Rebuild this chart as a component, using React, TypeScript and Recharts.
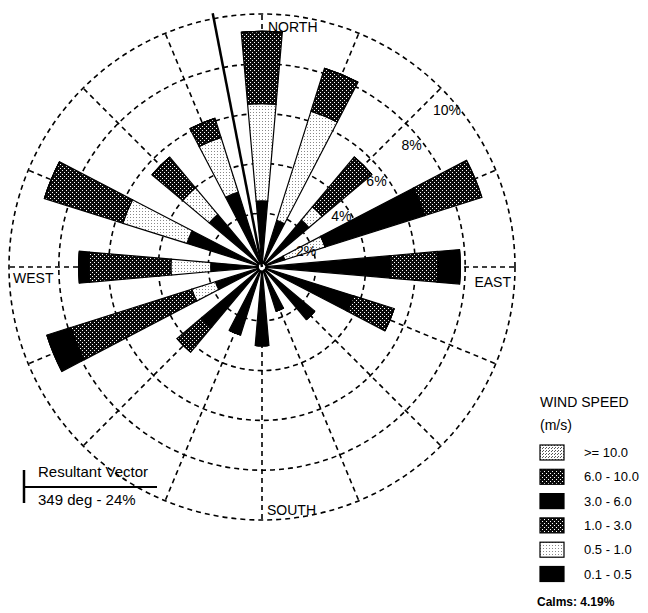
import { RadialBarChart, RadialBar, PolarGrid, PolarAngleAxis, PolarRadiusAxis, LineChart, Line, XAxis, YAxis } from "recharts";

// 16 compass directions, clockwise from north
const DIRECTIONS = ["N", "NNE", "NE", "ENE", "E", "ESE", "SE", "SSE", "S", "SSW", "SW", "WSW", "W", "WNW", "NW", "NNW"];
const COMPASS_LABELS: Record<string, string> = { N: "NORTH", E: "EAST", S: "SOUTH", W: "WEST" };
const RINGS = [0, 2, 4, 6, 8, 10];

// wind speed classes (m/s), stacked from the centre outwards
const SPEED_CLASSES = ["0.1 - 0.5", "0.5 - 1.0", "1.0 - 3.0", "3.0 - 6.0", "6.0 - 10.0", ">= 10.0"];

// frequency (%) per direction for each speed class
const SPEED_01_05 = [2.5, 1.8, 2.3, 0.8, 5.0, 3.7, 2.6, 1.7, 3.0, 2.7, 3.0, 1.8, 1.9, 3.0, 2.6, 3.0];
const SPEED_05_10 = [3.9, 4.6, 0.7, 1.7, 0, 0, 0, 0, 0, 0, 0, 1.0, 1.6, 2.7, 1.4, 2.3];
const SPEED_10_30 = [2.9, 1.8, 2.6, 0, 1.9, 1.7, 0, 0, 0, 0, 1.3, 5.1, 3.3, 3.3, 1.6, 0.8];
const SPEED_30_60 = [0, 0, 0, 4.2, 0.9, 0, 0, 0, 0, 0, 0, 1.0, 0.4, 0, 0, 0];
const SPEED_60_100 = [0, 0, 0, 2.4, 0, 0, 0, 0, 0, 0, 0, 0, 0, 0, 0, 0];
const SPEED_100_UP = [0, 0, 0, 0, 0, 0, 0, 0, 0, 0, 0, 0, 0, 0, 0, 0];

const CALMS = 4.19;
const RESULTANT_DEG = 349;
const RESULTANT_PCT = 24;
const VECTOR_DRAWN_LENGTH = 10.2; // drawn length, in ring units

const SERIES = [SPEED_01_05, SPEED_05_10, SPEED_10_30, SPEED_30_60, SPEED_60_100, SPEED_100_UP];
const FILLS = ["#000", "url(#lightDots)", "url(#darkDots)", "#000", "url(#darkDots)", "url(#lightDots2)"];

const data = DIRECTIONS.map((dir, i) => {
  const row: Record<string, string | number> = { dir };
  SERIES.forEach((s, k) => (row["s" + k] = s[i]));
  return row;
});

const FONT = "'Liberation Sans', Arial, sans-serif";
const CX = 262;
const CY = 267;
const R = 253;
const STEP = 360 / DIRECTIONS.length;
const HALF_BAND = STEP / 2;
const SPOKES = DIRECTIONS.map((_, i) => 90 - i * STEP);

// angle-axis ticks sit on the band edge; turn them back onto the band centre
const toBandCentre = (x: number, y: number) => {
  const t = (HALF_BAND * Math.PI) / 180;
  const dx = x - CX;
  const dy = y - CY;
  return { x: CX + dx * Math.cos(t) + dy * Math.sin(t), y: CY - dx * Math.sin(t) + dy * Math.cos(t) };
};

const CompassTick = (props: any) => {
  const { payload } = props;
  const label = COMPASS_LABELS[payload.value];
  if (!label) return <g />;
  const p = toBandCentre(props.x, props.y);
  const place: Record<string, [number, number, string]> = {
    N: [6, 26, "start"],
    E: [-12, 20, "end"],
    S: [5, -13, "start"],
    W: [12, 16, "start"],
  };
  const [dx, dy, anchor] = place[payload.value];
  return (
    <text x={p.x + dx} y={p.y + dy} textAnchor={anchor} fontSize={14} fontFamily={FONT} fill="#000">
      {label}
    </text>
  );
};

const PercentTick = (props: any) => {
  const { x, y, payload } = props;
  if (!payload.value) return <g />;
  return (
    <text x={x + 6} y={y + 27} textAnchor="middle" fontSize={14} fontFamily={FONT} fill="#000">
      {`${payload.value}%`}
    </text>
  );
};

const vectorData = [
  { x: 0, y: 0 },
  {
    x: VECTOR_DRAWN_LENGTH * Math.sin((RESULTANT_DEG * Math.PI) / 180),
    y: VECTOR_DRAWN_LENGTH * Math.cos((RESULTANT_DEG * Math.PI) / 180),
  },
];
const VEC_BOX = 532;

export default function App() {
  return (
    <div style={{ position: "absolute", left: 0, top: 0, width: 648, height: 613, background: "#fff", overflow: "hidden" }}>
      <RadialBarChart
        width={648}
        height={613}
        data={data}
        cx={CX}
        cy={CY}
        innerRadius={4}
        outerRadius={R}
        startAngle={90 - HALF_BAND}
        endAngle={90 - HALF_BAND - 360}
        layout="centric"
        barCategoryGap="28%"
        margin={{ top: 0, right: 0, bottom: 0, left: 0 }}
      >
        <defs>
          <pattern id="darkDots" width="4" height="4" patternUnits="userSpaceOnUse">
            <rect width="4" height="4" fill="#0a0a0a" />
            <rect x="0" y="0" width="1" height="1" fill="#fff" />
            <rect x="2" y="2" width="1" height="1" fill="#fff" />
          </pattern>
          <pattern id="lightDots" width="3" height="3" patternUnits="userSpaceOnUse">
            <rect width="3" height="3" fill="#fff" />
            <rect x="1" y="1" width="1" height="1" fill="#888" />
          </pattern>
          <pattern id="lightDots2" width="3" height="3" patternUnits="userSpaceOnUse">
            <rect width="3" height="3" fill="#fff" />
            <rect x="0" y="0" width="1" height="1" fill="#555" />
            <rect x="1" y="2" width="1" height="1" fill="#555" />
          </pattern>
        </defs>
        <PolarGrid gridType="circle" polarAngles={SPOKES} stroke="#000" strokeWidth={1.6} strokeDasharray="5 4" />
        <PolarAngleAxis dataKey="dir" type="category" axisLine={false} tickLine={false} tick={CompassTick} />
        {SERIES.map((_, k) => (
          <RadialBar
            key={k}
            dataKey={"s" + k}
            name={SPEED_CLASSES[k]}
            stackId="wind"
            fill={FILLS[k]}
            stroke="#000"
            strokeWidth={1.2}
            isAnimationActive={false}
          />
        ))}
        <PolarRadiusAxis
          angle={45}
          type="number"
          domain={[0, 10]}
          ticks={RINGS}
          tickCount={6}
          axisLine={false}
          tickLine={false}
          tick={PercentTick}
        />
      </RadialBarChart>

      <div style={{ position: "absolute", left: CX - VEC_BOX / 2, top: CY - VEC_BOX / 2, pointerEvents: "none" }}>
        <LineChart width={VEC_BOX} height={VEC_BOX} data={vectorData} margin={{ top: 0, right: 0, bottom: 0, left: 0 }}>
          <XAxis dataKey="x" type="number" domain={[-10.5, 10.5]} hide />
          <YAxis type="number" domain={[-10.5, 10.5]} hide />
          <Line dataKey="y" stroke="#000" strokeWidth={2.5} dot={false} isAnimationActive={false} />
        </LineChart>
      </div>

      {/* resultant vector note */}
      <svg style={{ position: "absolute", left: 0, top: 460 }} width={170} height={60}>
        <line x1={24} y1={10} x2={24} y2={43} stroke="#000" strokeWidth={2.5} />
        <line x1={24} y1={27} x2={157} y2={27} stroke="#000" strokeWidth={2} />
        <text x={38} y={17} fontSize={15} fontFamily={FONT} fill="#000">Resultant Vector</text>
        <text x={38} y={45} fontSize={15} fontFamily={FONT} fill="#000">{`${RESULTANT_DEG} deg - ${RESULTANT_PCT}%`}</text>
      </svg>

      {/* legend */}
      <svg style={{ position: "absolute", left: 530, top: 385 }} width={118} height={228}>
        <text x={10} y={22} fontSize={14} fontFamily={FONT} fill="#000">WIND SPEED</text>
        <text x={10} y={45} fontSize={14} fontFamily={FONT} fill="#000">(m/s)</text>
        {SPEED_CLASSES.slice()
          .reverse()
          .map((label, i) => {
            const top = 60 + i * 24.3;
            const k = SPEED_CLASSES.length - 1 - i;
            return (
              <g key={label}>
                <rect x={10} y={top} width={24} height={15} fill={FILLS[k]} stroke="#000" strokeWidth={1.2} />
                <text x={54} y={top + 12} fontSize={13} fontFamily={FONT} fill="#000">{label}</text>
              </g>
            );
          })}
        <text x={7} y={221} fontSize={12} fontWeight="bold" fontFamily={FONT} fill="#000">{`Calms: ${CALMS}%`}</text>
      </svg>
    </div>
  );
}
